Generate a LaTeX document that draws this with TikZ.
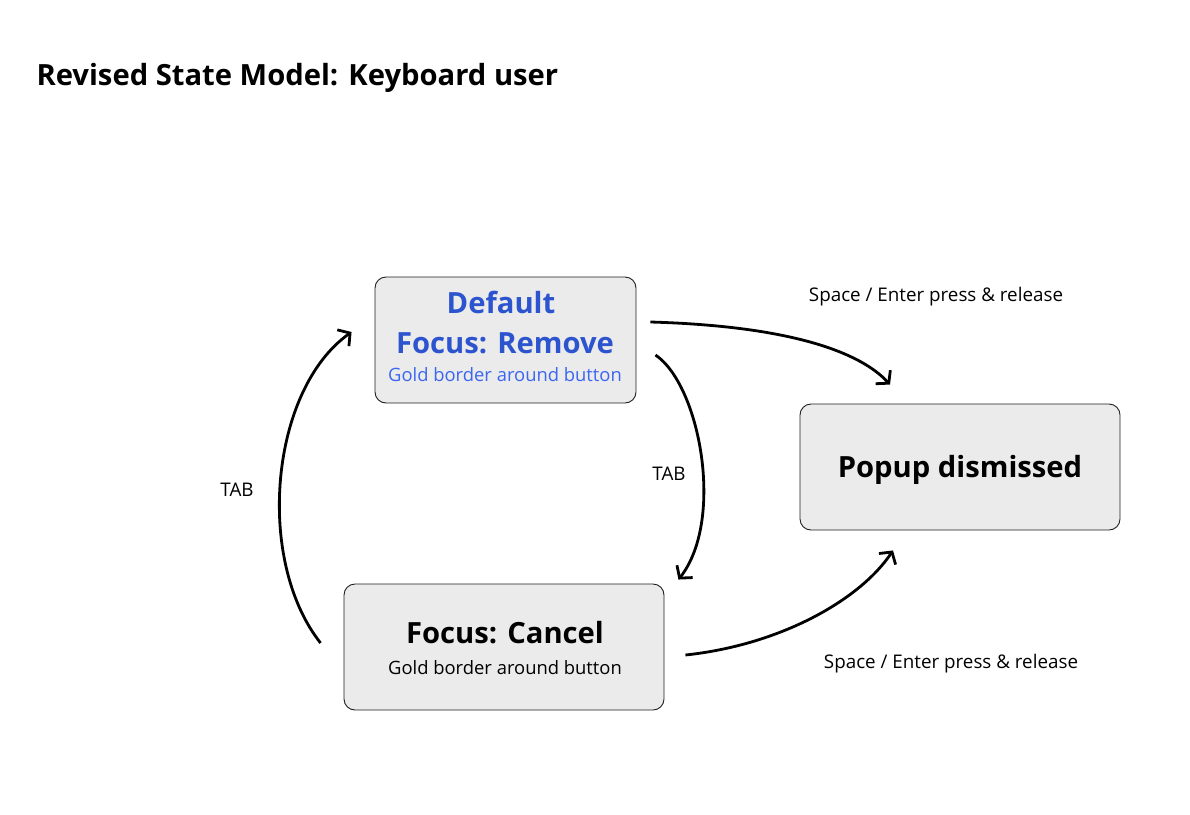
\documentclass[tikz,border=0pt]{standalone}
\usepackage{fontspec}
\setmainfont{Open Sans}
\usetikzlibrary{arrows.meta,calc}
\definecolor{boxfill}{HTML}{EBEBEB}
\definecolor{boxline}{HTML}{1E1E1E}
\definecolor{bluedark}{HTML}{2D54CF}
\definecolor{bluelight}{HTML}{3B66F2}
\begin{document}
\begin{tikzpicture}[x=1pt,y=-1pt,
  state/.style={draw=boxline,line width=0.9pt,fill=boxfill,rounded corners=11pt,minimum width=#1,minimum height=126pt,align=center,inner sep=0pt},
  big/.style={font=\fontsize{29.2}{32}\selectfont\bfseries},
  small/.style={font=\fontsize{18.4}{20}\selectfont},
  lab/.style={font=\fontsize{18.8}{20}\selectfont},
  conn/.style={line width=2.8pt,-{Straight Barb[length=8.5pt,width=20pt,line width=2.8pt]}}
]
\useasboundingbox (0,0) rectangle (1190,814);
\node[anchor=base west,font=\fontsize{29.2}{32}\selectfont\bfseries] (title) at (33,85) {Revised State Model: Keyboard user};

\node[state=261pt] (top) at (505.5,340) {};
\node[big,text=bluedark,anchor=base] (t1) at (501,313) {Default};
\node[big,text=bluedark,anchor=base] (t2) at (505,353) {Focus: Remove};
\node[small,text=bluelight,anchor=base] (t3) at (505,381) {Gold border around button};

\node[state=320pt] (bot) at (504,647) {};
\node[big,anchor=base] (b1) at (505,643) {Focus: Cancel};
\node[small,anchor=base] (b2) at (505,674) {Gold border around button};

\node[state=320pt] (pop) at (960,467) {};
\node[big,anchor=base] (p1) at (960,477) {Popup dismissed};

\node[lab,anchor=base] (l1) at (936,301) {Space / Enter press \& release};
\node[lab,anchor=base] (l2) at (951,668) {Space / Enter press \& release};
\node[lab,anchor=base] (l3) at (237,496) {TAB};
\node[lab,anchor=base] (l4) at (669,480) {TAB};

\coordinate (a1s) at ($(top.east)+(14,-18)$);
\coordinate (a1e) at ($(pop.north)+(-70,-19)$);
\coordinate (a2s) at ($(top.east)+(19,15)$);
\coordinate (a2e) at ($(bot.north east)+(14,-4)$);
\coordinate (a3s) at ($(bot.west)+(-23,-4)$);
\coordinate (a3e) at ($(top.west)+(-23,-8)$);
\coordinate (a4s) at ($(bot.east)+(21,8)$);
\coordinate (a4e) at ($(pop.south)+(-67,20)$);

\draw[conn] (a1s) .. controls (790,326) and (860,352) .. (a1e);
\draw[conn] (a2s) .. controls (700,385) and (725,520) .. (a2e);
\draw[conn] (a3s) .. controls (255,560) and (270,390) .. (a3e);
\draw[conn] (a4s) .. controls (780,645) and (860,600) .. (a4e);
\end{tikzpicture}
\end{document}
